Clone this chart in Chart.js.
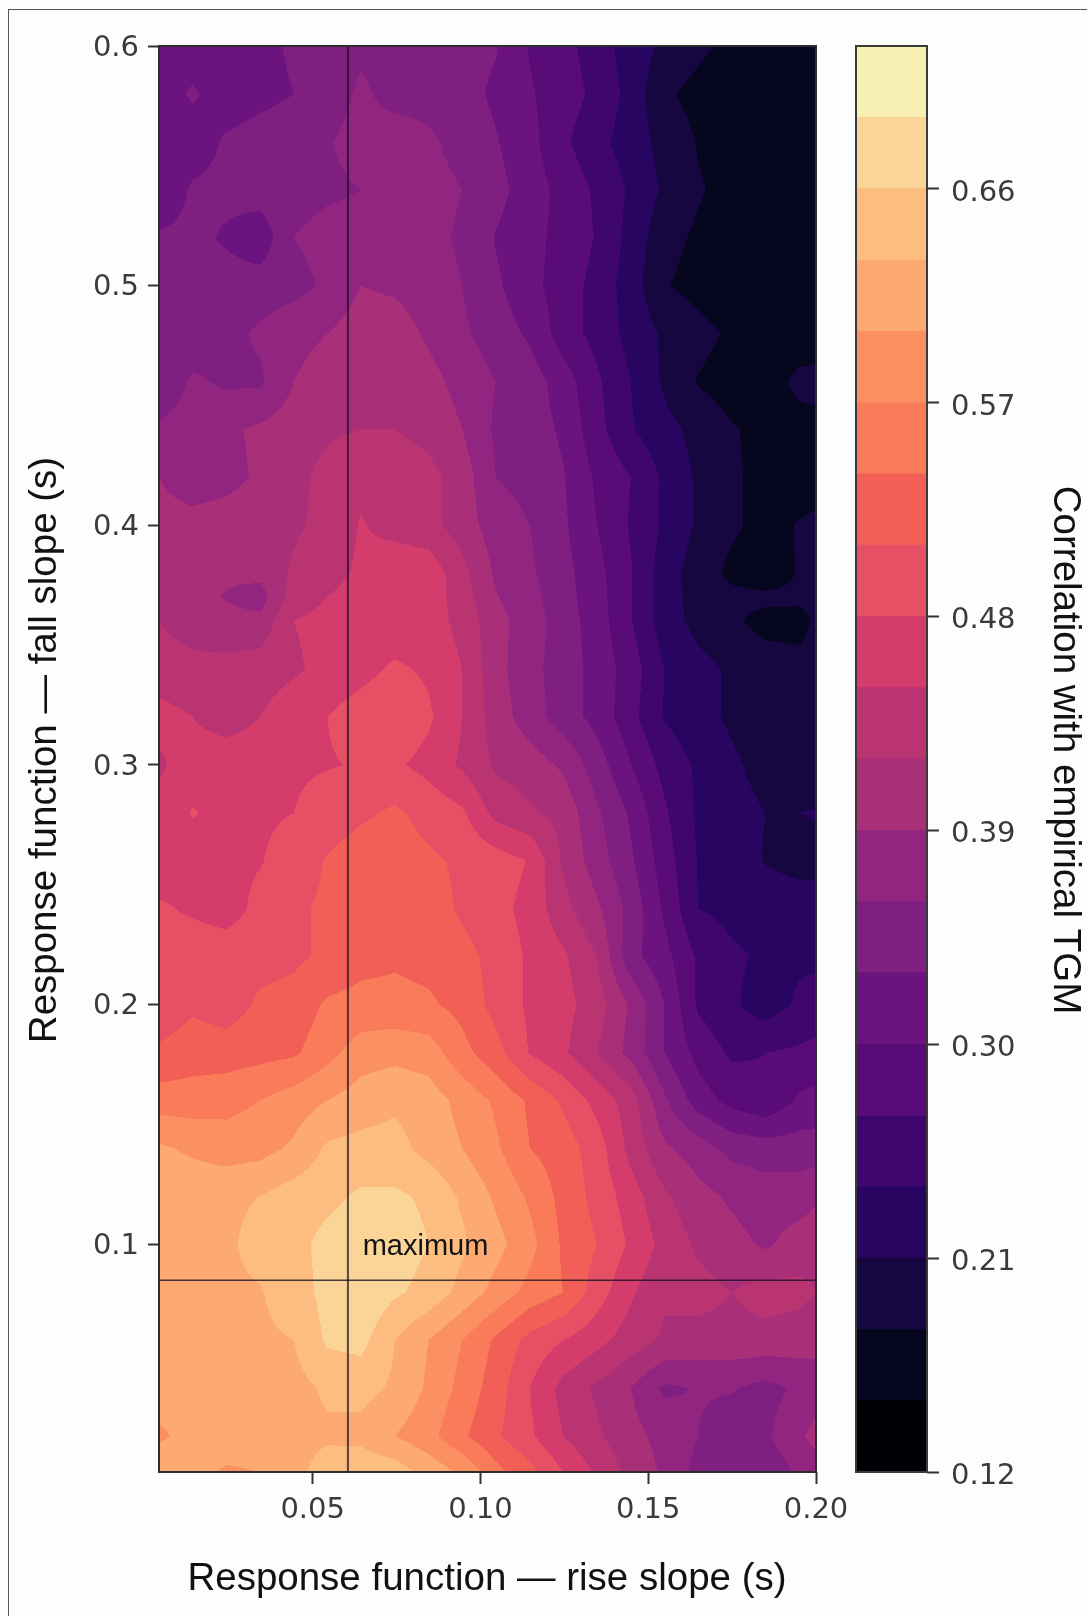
<!DOCTYPE html>
<html><head><meta charset="utf-8">
<style>
html,body{margin:0;padding:0;background:#fdfdfd;}
#frame{position:absolute;left:8px;top:9px;width:1079px;height:1607px;border-left:1.5px solid #555;border-top:1.5px solid #555;box-sizing:border-box;}
canvas{position:absolute;top:0;filter:blur(0.5px);}
#main{left:0;}
#bar{left:830px;}
</style>
<script src="https://cdn.jsdelivr.net/npm/chart.js@4"></script>
</head><body>
<div id="frame"></div>
<canvas id="main" width="1087" height="1616"></canvas>
<canvas id="bar" width="257" height="1616"></canvas>
<script>
const riseSlopes = [0.0042,0.0142,0.0243,0.0343,0.0444,0.0544,0.0644,0.0745,0.0845,0.0946,0.1046,0.1147,0.1247,0.1347,0.1448,0.1548,0.1649,0.1749,0.185,0.195,0.20];
const fallSlopes = [0.60,0.58,0.56,0.54,0.52,0.50,0.48,0.46,0.44,0.42,0.40,0.38,0.37,0.36,0.34,0.32,0.30,0.28,0.26,0.24,0.22,0.20,0.18,0.16,0.14,0.12,0.10,0.08,0.06,0.04,0.02,0.005];
const correlation = [
[.31,.31,.31,.32,.335,.345,.355,.35,.35,.34,.332,.298,.28,.255,.225,.205,.187,.172,.16,.155,.155],
[.31,.335,.31,.32,.33,.345,.365,.35,.35,.34,.325,.303,.285,.262,.23,.185,.17,.16,.155,.155,.155],
[.305,.31,.335,.345,.35,.358,.37,.375,.365,.35,.332,.31,.275,.25,.225,.2,.178,.165,.155,.155,.155],
[.30,.335,.34,.345,.35,.355,.36,.385,.37,.36,.34,.315,.29,.265,.235,.205,.183,.17,.155,.155,.155],
[.335,.34,.325,.31,.36,.37,.372,.375,.37,.355,.328,.31,.29,.268,.23,.19,.175,.165,.155,.155,.155],
[.345,.345,.345,.345,.35,.365,.39,.385,.375,.36,.335,.31,.285,.26,.225,.182,.17,.16,.155,.155,.155],
[.335,.34,.35,.365,.38,.39,.405,.405,.385,.365,.345,.325,.285,.26,.23,.205,.19,.175,.155,.155,.155],
[.335,.365,.355,.355,.39,.405,.415,.41,.40,.38,.36,.345,.315,.275,.24,.205,.178,.165,.16,.19,.195],
[.365,.375,.385,.395,.405,.415,.42,.42,.41,.39,.355,.345,.325,.28,.243,.22,.20,.183,.17,.165,.165],
[.39,.375,.38,.395,.41,.43,.445,.44,.43,.405,.36,.35,.332,.295,.27,.235,.205,.185,.17,.165,.17],
[.40,.40,.405,.41,.415,.43,.452,.44,.43,.405,.375,.36,.335,.30,.267,.235,.205,.185,.17,.182,.185],
[.40,.40,.395,.40,.425,.44,.455,.47,.47,.43,.385,.365,.34,.31,.272,.225,.195,.173,.16,.183,.19],
[.41,.40,.388,.375,.435,.45,.462,.465,.467,.435,.392,.37,.342,.312,.272,.225,.197,.188,.187,.186,.188],
[.42,.405,.40,.40,.45,.46,.47,.46,.465,.44,.40,.375,.345,.315,.272,.225,.20,.185,.17,.17,.185],
[.435,.43,.43,.435,.445,.46,.47,.485,.475,.45,.40,.37,.345,.32,.285,.24,.22,.205,.195,.19,.19],
[.46,.45,.435,.45,.47,.48,.495,.505,.485,.45,.405,.375,.345,.32,.28,.238,.22,.205,.195,.19,.19],
[.445,.465,.47,.47,.475,.478,.482,.485,.47,.445,.415,.405,.385,.345,.301,.26,.235,.215,.20,.195,.19],
[.46,.482,.47,.475,.48,.495,.505,.515,.50,.485,.44,.425,.41,.365,.325,.275,.235,.22,.21,.21,.212],
[.46,.465,.47,.478,.495,.512,.525,.525,.515,.505,.495,.478,.415,.375,.335,.285,.238,.225,.208,.20,.20],
[.485,.475,.465,.49,.505,.515,.525,.535,.525,.505,.49,.47,.43,.395,.35,.295,.24,.232,.228,.225,.225],
[.495,.50,.50,.50,.505,.515,.53,.535,.53,.52,.50,.475,.455,.42,.34,.31,.265,.245,.235,.235,.235],
[.49,.505,.495,.515,.52,.545,.55,.55,.545,.53,.50,.475,.46,.435,.385,.33,.265,.245,.225,.245,.25],
[.515,.525,.525,.53,.535,.56,.585,.59,.585,.55,.52,.478,.455,.42,.38,.33,.29,.265,.27,.275,.28],
[.555,.555,.56,.57,.585,.60,.615,.625,.615,.59,.565,.535,.505,.47,.435,.365,.315,.29,.275,.305,.31],
[.605,.595,.585,.59,.605,.635,.64,.64,.62,.60,.575,.54,.525,.495,.44,.395,.375,.35,.345,.345,.345],
[.615,.62,.625,.63,.645,.652,.665,.665,.655,.625,.595,.565,.53,.50,.465,.425,.40,.385,.375,.375,.385],
[.615,.62,.625,.64,.65,.67,.68,.675,.66,.635,.61,.58,.535,.51,.475,.44,.415,.40,.385,.405,.41],
[.615,.625,.625,.628,.645,.67,.685,.665,.65,.62,.59,.56,.54,.495,.455,.425,.43,.42,.432,.428,.42],
[.615,.62,.62,.625,.63,.665,.67,.63,.60,.57,.535,.50,.48,.46,.435,.415,.41,.41,.41,.405,.40],
[.615,.60,.62,.62,.62,.635,.64,.625,.595,.56,.525,.48,.44,.415,.39,.355,.362,.362,.35,.365,.375],
[.595,.61,.62,.625,.62,.625,.62,.60,.58,.545,.515,.485,.45,.425,.40,.38,.36,.345,.355,.385,.40],
[.62,.615,.595,.60,.62,.645,.655,.645,.62,.595,.55,.52,.48,.445,.41,.385,.35,.345,.34,.365,.375]
];
const levelBase = 0.12, levelStep = 0.03;
const levelColors = ['#000005','#06071f','#170741','#270560','#3f0670','#590b78','#6b1480','#7f1f80','#912580','#a82f78','#bb3472','#d43c6c','#e55064','#f25f57','#f97b5a','#fb9162','#fda972','#febd80','#fbd597','#f7f0b2'];
const xTickValues = [0.05,0.10,0.15,0.20];
const yTickValues = [0.1,0.2,0.3,0.4,0.5,0.6];
const barTickValues = [0.12,0.21,0.30,0.39,0.48,0.57,0.66];
const peakRise = 0.0605, peakFall = 0.085;
const peakLabel = 'maximum';
const xTitle = 'Response function \u2014 rise slope (s)';
const yTitle = 'Response function \u2014 fall slope (s)';
const barTitle = 'Correlation with empirical TGM';

const TICK_COLOR = '#3a3a3a';
const TITLE_FONT = '38.5px "Liberation Sans"';

function bracket(arr, v){
  const desc = arr[0] > arr[arr.length-1];
  for (let i=0;i<arr.length-1;i++){
    const a=arr[i], b=arr[i+1];
    if (desc ? (v<=a && v>=b) : (v>=a && v<=b)) return [i,(v-a)/(b-a)];
  }
  const below = desc ? v>arr[0] : v<arr[0];
  return below ? [0,0] : [arr.length-2,1];
}
function sample(xv,yv){
  const [i,t]=bracket(riseSlopes,xv), [j,u]=bracket(fallSlopes,yv);
  const r0=correlation[j], r1=correlation[j+1];
  return (1-u)*((1-t)*r0[i]+t*r0[i+1]) + u*((1-t)*r1[i]+t*r1[i+1]);
}
function levelOf(v){ return Math.max(0,Math.min(levelColors.length-1,Math.floor((v-levelBase)/levelStep))); }

const contourPlugin = {
  id:'contour',
  beforeDatasetsDraw(chart){
    const {ctx,chartArea:a,scales:{x,y}}=chart;
    ctx.save();
    for (let py=Math.floor(a.top); py<Math.ceil(a.bottom); py++){
      const yv=y.getValueForPixel(py+0.5);
      let start=Math.floor(a.left), cur=-1;
      for (let px=Math.floor(a.left); px<=Math.ceil(a.right); px++){
        const l = px<Math.ceil(a.right) ? levelOf(sample(x.getValueForPixel(px+0.5),yv)) : -2;
        if (l!==cur){
          if (cur>=0){ ctx.fillStyle=levelColors[cur]; ctx.fillRect(start,py,px-start,1); }
          start=px; cur=l;
        }
      }
    }
    ctx.restore();
  },
  afterDraw(chart){
    const {ctx,chartArea:a,scales:{x,y}}=chart;
    ctx.save();
    ctx.strokeStyle='#2c2c2c'; ctx.lineWidth=2;
    ctx.strokeRect(a.left,a.top,a.right-a.left,a.bottom-a.top);
    ctx.fillStyle='#141414'; ctx.font='29px "Liberation Sans"'; ctx.textBaseline='alphabetic';
    ctx.fillText(peakLabel, x.getPixelForValue(0.0649), y.getPixelForValue(0.0955));
    ctx.fillStyle='#111';ctx.font=TITLE_FONT;ctx.textAlign='center';
    ctx.fillText(xTitle,487,1590);
    ctx.translate(56,750);ctx.rotate(-Math.PI/2);ctx.fillText(yTitle,0,0);
    ctx.restore();
  }
};

new Chart(document.getElementById('main'),{
  type:'scatter',
  plugins:[contourPlugin],
  data:{datasets:[
    {label:'correlation',data:correlation.flatMap((row,j)=>row.map((v,i)=>({x:riseSlopes[i],y:fallSlopes[j],v}))),pointRadius:0,showLine:false},
    {label:'peak rise',data:[{x:peakRise,y:0.005},{x:peakRise,y:0.6}],showLine:true,borderColor:'rgba(20,15,35,0.72)',borderWidth:2,pointRadius:0},
    {label:'peak fall',data:[{x:0.0042,y:peakFall},{x:0.2,y:peakFall}],showLine:true,borderColor:'rgba(20,15,35,0.78)',borderWidth:1.6,pointRadius:0}
  ]},
  options:{
    responsive:false,animation:false,
    layout:{padding:{left:0,top:46,right:271,bottom:0}},
    plugins:{legend:{display:false},tooltip:{enabled:false}},
    scales:{
      x:{type:'linear',min:0.0042,max:0.2,
        afterFit(s){s.height=144;},
        afterBuildTicks(s){s.ticks=xTickValues.map(v=>({value:v}));},
        grid:{drawOnChartArea:false,drawTicks:true,tickLength:12,tickWidth:2,tickColor:'#333'},
        border:{display:false},
        ticks:{font:{family:'"DejaVu Sans"',size:29},color:TICK_COLOR,padding:9,maxRotation:0,autoSkip:false,callback:v=>v.toFixed(2)}},
      y:{type:'linear',min:0.005,max:0.6,
        afterFit(s){s.width=159;},
        afterBuildTicks(s){s.ticks=yTickValues.map(v=>({value:v}));},
        grid:{drawOnChartArea:false,drawTicks:true,tickLength:11,tickWidth:2,tickColor:'#333'},
        border:{display:false},
        ticks:{font:{family:'"DejaVu Sans"',size:29,lineHeight:'4px'},color:TICK_COLOR,padding:9,autoSkip:false,callback:v=>['',v.toFixed(1)]}}
    }
  }
});

const barFrame = {
  id:'barFrame',
  afterDraw(chart){
    const {ctx,chartArea:a}=chart;
    ctx.save();
    ctx.strokeStyle='#3a3a3a';ctx.lineWidth=2;
    ctx.strokeRect(a.left,a.top,a.right-a.left,a.bottom-a.top);
    ctx.fillStyle='#111';ctx.font=TITLE_FONT;ctx.textAlign='center';
    ctx.translate(1054-830,750);ctx.rotate(Math.PI/2);ctx.fillText(barTitle,0,0);
    ctx.restore();
  }
};
new Chart(document.getElementById('bar'),{
  type:'bar',
  plugins:[barFrame],
  data:{labels:['correlation'],datasets:levelColors.map((c,k)=>({
    label:'band '+k,
    data:[[levelBase+k*levelStep,levelBase+(k+1)*levelStep]],
    backgroundColor:c,borderWidth:0,barPercentage:1,categoryPercentage:1,grouped:false
  }))},
  options:{
    responsive:false,animation:false,
    layout:{padding:{left:26,top:46,right:0,bottom:144}},
    plugins:{legend:{display:false},tooltip:{enabled:false}},
    scales:{
      x:{display:false,offset:true,grid:{display:false}},
      y:{position:'right',min:0.12,max:0.72,
        afterFit(s){s.width=257-97;},
        afterBuildTicks(s){s.ticks=barTickValues.map(v=>({value:v}));},
        grid:{drawOnChartArea:false,drawTicks:true,tickLength:12,tickWidth:2,tickColor:'#333'},
        border:{display:false},
        ticks:{font:{family:'"DejaVu Sans"',size:29,lineHeight:'9px'},color:TICK_COLOR,padding:12,autoSkip:false,callback:v=>['',v.toFixed(2)]}}
    }
  }
});
</script>
</body></html>
